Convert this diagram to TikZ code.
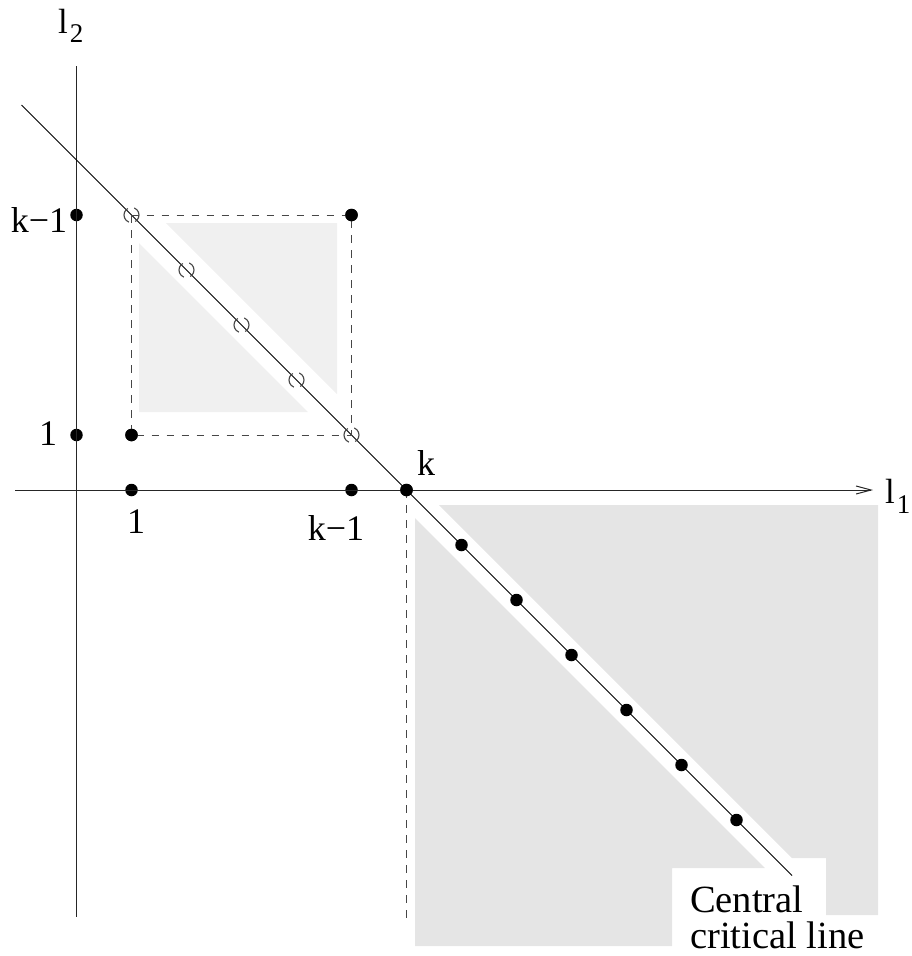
\documentclass[tikz,border=0pt]{standalone}
\usepackage{fontspec}
\setmainfont{Liberation Serif}
\usetikzlibrary{arrows.meta}
\definecolor{lightfill}{RGB}{240,240,240}
\definecolor{midfill}{RGB}{229,229,229}
\definecolor{dashgray}{RGB}{70,70,70}
\begin{document}
\begin{tikzpicture}[x=1pt,y=-1pt,
  dot/.style={circle,fill=black,inner sep=0pt,minimum size=12.5pt},
  hollow/.style={circle,draw=dashgray,inner sep=0pt,minimum size=15pt,line width=1.1pt,dash pattern=on 17pt off 6.5pt,dash phase=8pt},
  lab/.style={font=\fontsize{36}{40}\selectfont,inner sep=0pt,anchor=base},
  axisline/.style={line width=1pt,draw=black!85},
  dashline/.style={draw=dashgray,line width=1pt,dash pattern=on 7.5pt off 7.5pt}]
\useasboundingbox (0,0) rectangle (912,956);
% grey regions
\fill[lightfill] (166,223) -- (337,223) -- (337,394) -- cycle;
\fill[lightfill] (139,243) -- (139,412) -- (308,412) -- cycle;
\fill[midfill] (439,505) -- (878,505) -- (878,915) -- (826,915) -- (826,858) -- (792,858) -- cycle;
\fill[midfill] (415,518) -- (415,946) -- (672,946) -- (672,868) -- (765,868) -- cycle;
% coordinates
\coordinate (xs) at (15,490);
\coordinate (xe) at (873,490);
\coordinate (ys) at (76.5,66);
\coordinate (ye) at (76.5,917);
\coordinate (ds) at (21.5,105);
\coordinate (de) at (792,875.5);
\coordinate (c15) at (131.5,215);
\coordinate (c51) at (351.5,435);
\coordinate (vb) at (406.5,922);
% dots
\node[dot] (yk1) at (76.5,215) {};
\node[dot] (y1) at (76.5,435) {};
\node[dot] (p11) at (131.5,435) {};
\node[dot] (p55) at (351.5,215) {};
\node[dot] (x1) at (131.5,490) {};
\node[dot] (xk1) at (351.5,490) {};
\node[dot] (k) at (406.5,490) {};
% lines
\draw[axisline,-{Straight Barb[length=15pt,width=8pt]}] (xs) -- (xe);
\draw[axisline] (ys) -- (ye);
\draw[line width=1pt] (ds) -- (de);
\draw[dashline] (c15) -- (p55.center) -- (c51);
\draw[dashline] (c15) -- (p11.center) -- (c51);
\draw[dashline] (k.center) -- (vb);
% dots again on top
\node[dot] at (p11) {};
\node[dot] at (p55) {};
\node[dot] at (k) {};
\foreach \i in {1,...,6} {
  \node[dot] (d\i) at ({406.5+55*\i},{490+55*\i}) {};
}
% hollow circles
\node[hollow] (h1) at (c15) {};
\foreach \i in {1,2,3} {
  \node[hollow] (h\i b) at ({131.5+55*\i},{215+55*\i}) {};
}
\node[hollow] (h5) at (c51) {};
% labels
\node[lab] (lk1y) at (39,232) {k−1};
\node[lab] (l1y) at (48,445) {1};
\node[lab] (l1x) at (136,533) {1};
\node[lab] (lk1x) at (336,540) {k−1};
\node[lab] (lk) at (426,475) {k};
\node[inner sep=0pt,anchor=base west,font=\fontsize{35}{40}\selectfont] (ltwo) at (58,33) {l\kern2pt\raisebox{-9pt}{\fontsize{27}{30}\selectfont 2}};
\node[inner sep=0pt,anchor=base west,font=\fontsize{35}{40}\selectfont] (lone) at (885,503) {l\kern2pt\raisebox{-10pt}{\fontsize{27}{30}\selectfont 1}};
\node[inner sep=0pt,anchor=north west,align=left,font=\fontsize{38.5}{36}\selectfont] (cap) at (690,886) {Central\\critical line};
\end{tikzpicture}
\end{document}
